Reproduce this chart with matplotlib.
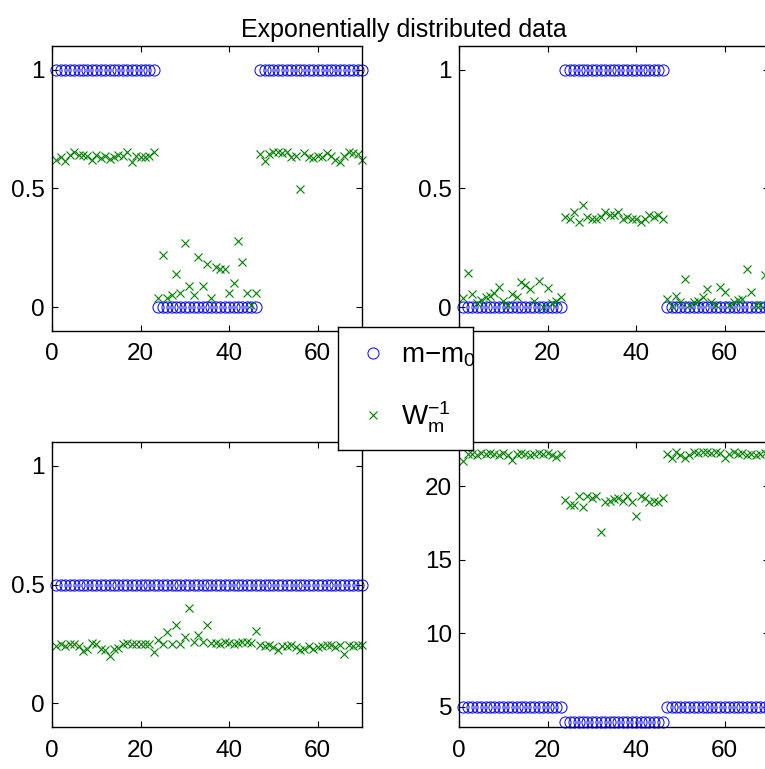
import matplotlib
matplotlib.use('Agg')
import matplotlib.pyplot as plt

plt.rcParams['font.family'] = ['Liberation Sans', 'DejaVu Sans']
plt.rcParams['mathtext.fontset'] = 'custom'
plt.rcParams['mathtext.rm'] = 'Liberation Sans'
plt.rcParams['mathtext.it'] = 'Liberation Sans'
plt.rcParams['mathtext.default'] = 'regular'

# sample index 1..70
n = list(range(1, 71))

# m - m0 (blue circles), one list per panel
tl_m = [1, 1, 1, 1, 1, 1, 1, 1, 1, 1, 1, 1, 1, 1, 1, 1, 1, 1, 1, 1, 1, 1, 1,
        0, 0, 0, 0, 0, 0, 0, 0, 0, 0, 0, 0, 0, 0, 0, 0, 0, 0, 0, 0, 0, 0, 0,
        1, 1, 1, 1, 1, 1, 1, 1, 1, 1, 1, 1, 1, 1, 1, 1, 1, 1, 1, 1, 1, 1, 1, 1]
tr_m = [0, 0, 0, 0, 0, 0, 0, 0, 0, 0, 0, 0, 0, 0, 0, 0, 0, 0, 0, 0, 0, 0, 0,
        1, 1, 1, 1, 1, 1, 1, 1, 1, 1, 1, 1, 1, 1, 1, 1, 1, 1, 1, 1, 1, 1, 1,
        0, 0, 0, 0, 0, 0, 0, 0, 0, 0, 0, 0, 0, 0, 0, 0, 0, 0, 0, 0, 0, 0, 0, 0]
bl_m = [0.5, 0.5, 0.5, 0.5, 0.5, 0.5, 0.5, 0.5, 0.5, 0.5, 0.5, 0.5, 0.5, 0.5,
        0.5, 0.5, 0.5, 0.5, 0.5, 0.5, 0.5, 0.5, 0.5, 0.5, 0.5, 0.5, 0.5, 0.5,
        0.5, 0.5, 0.5, 0.5, 0.5, 0.5, 0.5, 0.5, 0.5, 0.5, 0.5, 0.5, 0.5, 0.5,
        0.5, 0.5, 0.5, 0.5, 0.5, 0.5, 0.5, 0.5, 0.5, 0.5, 0.5, 0.5, 0.5, 0.5,
        0.5, 0.5, 0.5, 0.5, 0.5, 0.5, 0.5, 0.5, 0.5, 0.5, 0.5, 0.5, 0.5, 0.5]
br_m = [5, 5, 5, 5, 5, 5, 5, 5, 5, 5, 5, 5, 5, 5, 5, 5, 5, 5, 5, 5, 5, 5, 5,
        4, 4, 4, 4, 4, 4, 4, 4, 4, 4, 4, 4, 4, 4, 4, 4, 4, 4, 4, 4, 4, 4, 4,
        5, 5, 5, 5, 5, 5, 5, 5, 5, 5, 5, 5, 5, 5, 5, 5, 5, 5, 5, 5, 5, 5, 5, 5]

# W_m^-1 (green crosses)
tl_w = [0.618, 0.632, 0.614, 0.642, 0.652, 0.642, 0.642, 0.635, 0.621, 0.642,
        0.628, 0.635, 0.624, 0.632, 0.642, 0.638, 0.652, 0.610, 0.638, 0.632,
        0.632, 0.638, 0.652,
        0.04, 0.22, 0.04, 0.05, 0.14, 0.06, 0.27, 0.09, 0.05, 0.21, 0.09, 0.18,
        0.04, 0.17, 0.16, 0.16, 0.06, 0.10, 0.28, 0.19, 0.06, 0.01, 0.06,
        0.645, 0.614, 0.645, 0.652, 0.652, 0.649, 0.652, 0.632, 0.638, 0.496,
        0.649, 0.632, 0.628, 0.638, 0.632, 0.649, 0.635, 0.621, 0.610, 0.638,
        0.652, 0.649, 0.645, 0.618]
tr_w = [0.04, 0.146, 0.056, 0.017, 0.03, 0.042, 0.049, 0.059, 0.086, 0.028,
        0.01, 0.056, 0.044, 0.105, 0.093, 0.076, 0.028, 0.112, 0.003, 0.081,
        0.017, 0.028, 0.042,
        0.38, 0.37, 0.40, 0.36, 0.43, 0.38, 0.37, 0.37, 0.38, 0.40, 0.39, 0.39,
        0.40, 0.37, 0.38, 0.37, 0.37, 0.36, 0.37, 0.39, 0.38, 0.39, 0.37,
        0.034, 0.007, 0.048, 0.02, 0.118, 0.01, 0.022, 0.025, 0.041, 0.076,
        0.02, 0.01, 0.084, 0.063, 0.01, 0.02, 0.03, 0.035, 0.16, 0.063,
        0.01, 0.01, 0.135, 0.03]
bl_w = [0.241, 0.251, 0.241, 0.248, 0.251, 0.241, 0.220, 0.230, 0.255, 0.248,
        0.230, 0.224, 0.198, 0.230, 0.234, 0.248, 0.255, 0.251, 0.251, 0.251,
        0.248, 0.248, 0.217,
        0.266, 0.25, 0.30, 0.25, 0.33, 0.25, 0.28, 0.40, 0.256, 0.287, 0.256,
        0.33, 0.255, 0.255, 0.25, 0.258, 0.255, 0.25, 0.255, 0.258, 0.26,
        0.255, 0.305,
        0.245, 0.24, 0.245, 0.235, 0.224, 0.24, 0.24, 0.245, 0.235, 0.224,
        0.227, 0.24, 0.227, 0.235, 0.24, 0.245, 0.245, 0.235, 0.245, 0.206,
        0.245, 0.24, 0.245, 0.245]
br_w = [21.74, 22.19, 22.2, 22.1, 22.25, 22.2, 22.25, 22.2, 22.1, 22.25,
        22.1, 21.8, 22.2, 22.25, 22.2, 22.15, 22.2, 22.25, 22.2, 22.25,
        22.15, 22.0, 22.2,
        19.06, 18.72, 18.7, 19.33, 18.6, 19.33, 19.2, 19.3, 16.9, 18.95,
        19.0, 19.1, 19.2, 19.0, 19.33, 18.95, 17.99, 19.33, 19.2, 18.95,
        19.0, 18.95, 19.2,
        22.19, 21.9, 22.3, 22.1, 21.9, 22.1, 22.3, 22.25, 22.3, 22.3,
        22.25, 22.3, 22.25, 21.9, 22.2, 22.3, 22.2, 22.25, 22.1, 22.2,
        22.1, 22.2, 22.25, 22.2]

x_ticks = [0, 20, 40, 60]
unit_ticks = [0, 0.5, 1]
unit_labels = ['0', '0.5', '1']
br_ticks = [5, 10, 15, 20]

panels = [
    ([0.068, 0.5696, 0.4052, 0.3706], tl_m, tl_w, (-0.1, 1.1), unit_ticks, unit_labels),
    ([0.600, 0.5696, 0.4052, 0.3706], tr_m, tr_w, (-0.1, 1.1), unit_ticks, unit_labels),
    ([0.068, 0.0546, 0.4052, 0.3706], bl_m, bl_w, (-0.1, 1.1), unit_ticks, unit_labels),
    ([0.600, 0.0546, 0.4052, 0.3706], br_m, br_w, (3.64, 23.0), br_ticks,
     [str(t) for t in br_ticks]),
]

fig = plt.figure(figsize=(7.65, 7.69), dpi=100)

axes = []
for rect, m, w, ylim, yt, ylab in panels:
    ax = fig.add_axes(rect)
    ax.plot(n, m, 'o', color='blue', markerfacecolor='none',
            markersize=8, markeredgewidth=0.7, clip_on=False)
    ax.plot(n, w, 'x', color=(0, 0.5, 0), markersize=6,
            markeredgewidth=0.8, clip_on=False)
    ax.set_xlim(0, 70)
    ax.set_ylim(*ylim)
    ax.set_xticks(x_ticks)
    ax.set_xticklabels([str(t) for t in x_ticks])
    ax.set_yticks(yt)
    ax.set_yticklabels(ylab)
    ax.tick_params(direction='in', top=True, right=True, length=4,
                   width=0.8, labelsize=17.5)
    ax.tick_params(axis='x', pad=9)
    ax.tick_params(axis='y', pad=5)
    for s in ax.spines.values():
        s.set_linewidth(1.0)
    axes.append(ax)

# the "0" under the legend box of the top-right panel is covered anyway
axes[1].get_xticklabels()[0].set_visible(False)

fig.text(0.5275, 0.9523, 'Exponentially distributed data', fontsize=18,
         ha='center', va='baseline')

# legend box sitting on top of the four panels
handles = axes[0].get_lines()
lax = fig.add_axes([0.4418, 0.4148, 0.1765, 0.16], zorder=10)
lax.set_xticks([])
lax.set_yticks([])
for s in lax.spines.values():
    s.set_linewidth(1.0)
lax.legend(handles, ['m$-$m$_0$', 'W$_m^{-1}$'], loc='center left',
           bbox_to_anchor=(0.156, 0.5), borderaxespad=0, frameon=False,
           fontsize=20, handlelength=1.0, handletextpad=0.51, borderpad=0,
           labelspacing=1.1)

fig.savefig('out.png', dpi=100)
